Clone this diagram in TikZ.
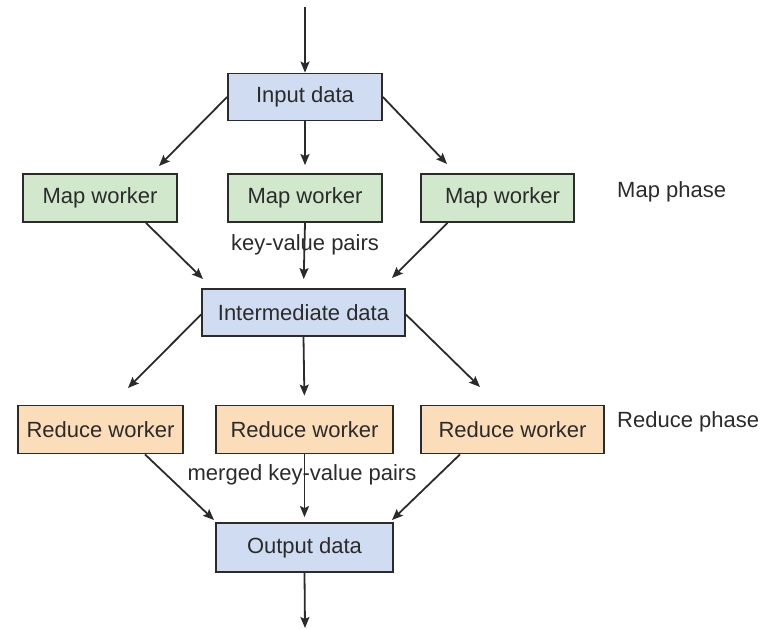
\documentclass[tikz,border=0pt]{standalone}
\usepackage{fontspec}
\setmainfont{Liberation Sans}
\usetikzlibrary{arrows.meta}
\definecolor{bluefill}{HTML}{CFDCF1}
\definecolor{greenfill}{HTML}{D1E8CD}
\definecolor{orangefill}{HTML}{FCDDBA}
\definecolor{ink}{HTML}{2B2B2B}
\begin{document}
\begin{tikzpicture}[x=1pt,y=-1pt,
  txt/.style={text=ink,font=\fontsize{22}{26}\selectfont},
  box/.style={txt,draw=ink,line width=1.8pt,inner sep=0pt},
  databox/.style={box,fill=bluefill},
  mapbox/.style={box,fill=greenfill},
  redbox/.style={box,fill=orangefill},
  lbl/.style={txt,inner sep=0pt},
  arr/.style={draw=ink,line width=1.8pt,-{Stealth[length=11pt,width=9pt,inset=2pt]}}]
\useasboundingbox (0,0) rectangle (777,629);

% boxes
\node[databox,minimum width=154pt,minimum height=47pt] (in) at (305,97) {Input data};
\node[mapbox,minimum width=154pt,minimum height=48pt] (m1) at (100,198) {Map worker};
\node[mapbox,minimum width=154pt,minimum height=48pt] (m2) at (305,198) {Map worker};
\node[mapbox,minimum width=153pt,minimum height=48pt] (m3) at (497.5,198) {\hspace*{10pt}Map worker};
\node[databox,minimum width=203pt,minimum height=47pt] (mid) at (303.5,312.5) {Intermediate data};
\node[redbox,minimum width=165pt,minimum height=48pt] (r1) at (100.5,429.5) {Reduce worker};
\node[redbox,minimum width=177pt,minimum height=48pt] (r2) at (304.5,429.5) {Reduce worker};
\node[redbox,minimum width=183pt,minimum height=48pt] (r3) at (512.5,429.5) {Reduce worker};
\node[databox,minimum width=177pt,minimum height=49pt] (out) at (304.5,547.5) {Output data};

% free ends
\coordinate (top) at (305,7);
\coordinate (a1) at (159,166);
\coordinate (a3) at (447,164);
\coordinate (b1) at (203,279);
\coordinate (b3) at (392,278);
\coordinate (c1) at (128,388);
\coordinate (c3) at (480,387);
\coordinate (d1) at (214,520);
\coordinate (d3) at (392,520);
\coordinate (bot) at (305,628);

% connectors
\draw[arr] (top) -- (in.north);
\draw[arr] (in.west) -- (a1);
\draw[arr,shorten >=8pt] (in.south) -- (m2.north);
\draw[arr] (in.east) -- (a3);
\draw[arr] ([xshift=46pt]m1.south) -- (b1);
\draw[arr,shorten >=9pt] (m2.south) -- (mid.north);
\draw[arr] ([xshift=-50pt]m3.south) -- (b3);
\draw[arr] ([yshift=-2pt]mid.west) -- (c1);
\draw[arr,shorten >=9pt] (mid.south) -- (r2.north);
\draw[arr] ([yshift=-2pt]mid.east) -- (c3);
\draw[arr] ([xshift=44.5pt]r1.south) -- (d1);
\draw[arr,shorten >=5pt] (r2.south) -- (out.north);
\draw[arr] ([xshift=-52.5pt]r3.south) -- (d3);
\draw[arr] (out.south) -- (bot);

% labels
\node[lbl] (kv) at (305,245) {key-value pairs};
\node[lbl] (mkv) at (302,475) {merged key-value pairs};
\node[lbl,anchor=west] (mp) at (617,192) {Map phase};
\node[lbl,anchor=west] (rp) at (617,422) {Reduce phase};
\end{tikzpicture}
\end{document}
